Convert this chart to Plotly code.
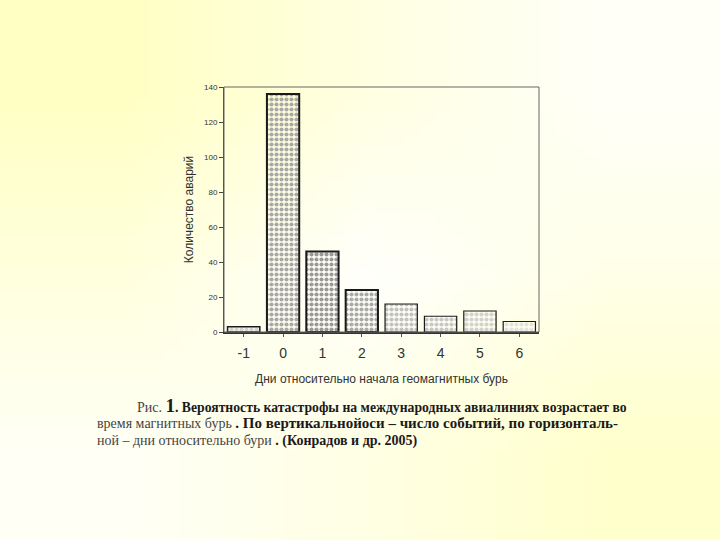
import base64
import struct
import zlib

import plotly.graph_objects as go

# data
days = [-1, 0, 1, 2, 3, 4, 5, 6]
accidents = [3, 136, 46, 24, 16, 9, 12, 6]
tick_days = [-1, 0, 1, 2, 3, 4, 5, 6]
y_ticks = [0, 20, 40, 60, 80, 100, 120, 140]

# speckled greys of the scan, one per bar
bar_bg = ["#d2d2d2", "#a8a8a8", "#9a9a9a", "#aaaaaa", "#c2c2c2", "#c8c8c8", "#d2d2d2", "#e2e2e2"]
bar_fg = ["#6a6a6a", "#5a5a5a", "#4a4a4a", "#5a5a5a", "#7a7a7a", "#808080", "#8c8c8c", "#a0a0a0"]
bar_line = [1.5, 2, 2, 2, 1.2, 1.2, 1.2, 1.2]

caption_1 = ("<span style='color:#444'>Рис.</span> <b><span style='font-size:19px'>1</span>"
             "<span style='font-size:13.7px'>. Вероятность катастрофы на международных "
             "авиалиниях возрастает во</span></b>")
caption_2 = ("<span style='color:#444'>время магнитных бурь</span> "
             "<b><span style='font-size:15px'>. По вертикальнойоси – число событий, "
             "по горизонталь-</span></b>")
caption_3 = "<span style='color:#444'>ной – дни относительно бури</span> <b>. (Конрадов и др. 2005)</b>"


def gradient_png(grid):
    h = len(grid)
    w = len(grid[0])
    raw = b"".join(b"\x00" + bytes([c for px in row for c in px]) for row in grid)

    def chunk(tag, data):
        c = tag + data
        return struct.pack(">I", len(data)) + c + struct.pack(">I", zlib.crc32(c) & 0xffffffff)

    png = b"\x89PNG\r\n\x1a\n"
    png += chunk(b"IHDR", struct.pack(">IIBBBBB", w, h, 8, 2, 0, 0, 0))
    png += chunk(b"IDAT", zlib.compress(raw))
    png += chunk(b"IEND", b"")
    return "data:image/png;base64," + base64.b64encode(png).decode()


bg_grid = [
    [(255, 255, 196), (255, 255, 226), (255, 255, 248)],
    [(255, 255, 222), (255, 255, 252), (255, 255, 232)],
    [(255, 255, 246), (255, 255, 228), (255, 255, 204)],
]

fig = go.Figure()
fig.add_trace(go.Bar(
    x=days, y=accidents,
    width=0.82,
    marker=dict(
        color=bar_bg,
        line=dict(color="#1a1a1a", width=bar_line),
        pattern=dict(shape=".", bgcolor=bar_bg, fgcolor=bar_fg, size=5, solidity=0.55,
                     fillmode="replace"),
    ),
    showlegend=False,
))

W, H = 720, 540
L, R, T, B = 224, 181, 87, 208
pw, ph = W - L - R, H - T - B

fig.add_layout_image(dict(
    source=gradient_png(bg_grid), xref="paper", yref="paper",
    x=-L / pw, y=1 + T / ph, sizex=W / pw, sizey=H / ph,
    xanchor="left", yanchor="top", sizing="stretch", layer="below",
))

cap_font = dict(family="Liberation Serif, Times New Roman, serif", size=14, color="#1a1a1a")
for txt, px_x, px_y in [(caption_1, 135, 405), (caption_2, 95, 423), (caption_3, 95, 441)]:
    fig.add_annotation(
        text=txt, xref="paper", yref="paper",
        x=(px_x - L) / pw, y=(H - B - px_y) / ph,
        xanchor="left", yanchor="middle", showarrow=False, font=cap_font,
    )

fig.update_layout(
    width=W, height=H, autosize=False,
    margin=dict(l=L, r=R, t=T, b=B, pad=0),
    paper_bgcolor="#fffff0", plot_bgcolor="white",
    bargap=0.18,
    font=dict(family="Arial, Liberation Sans, sans-serif", color="#222"),
)
fig.update_xaxes(
    range=[-1.5, 6.5], tickvals=tick_days, ticktext=[str(d) for d in tick_days],
    tickfont=dict(size=14, color="#333"), ticklabelstandoff=4,
    showline=True, linecolor="#333", linewidth=1.5, mirror=False,
    ticks="outside", ticklen=3, tickcolor="#555", showgrid=False, zeroline=False,
    title=dict(text="Дни относительно начала геомагнитных бурь", font=dict(size=12, color="#333"),
               standoff=15),
)
fig.update_yaxes(
    range=[0, 140], tickvals=y_ticks, tickfont=dict(size=8, color="#333"),
    showline=True, linecolor="#444", linewidth=1, mirror=False,
    ticks="outside", ticklen=4, tickcolor="#444", showgrid=False, zeroline=False,
    title=dict(text="Количество аварий", font=dict(size=12, color="#333"), standoff=7),
)
# thin frame along top and right, as in the scan
fig.add_shape(type="rect", xref="paper", yref="paper", x0=0, y0=0, x1=1, y1=1,
              line=dict(color="#666", width=1), layer="above")

# drop the browser's default body margin so the 720x540 figure fills the window
fig.write_html("out.html", config={"displayModeBar": False},
               post_script="document.body.style.margin='0';")
